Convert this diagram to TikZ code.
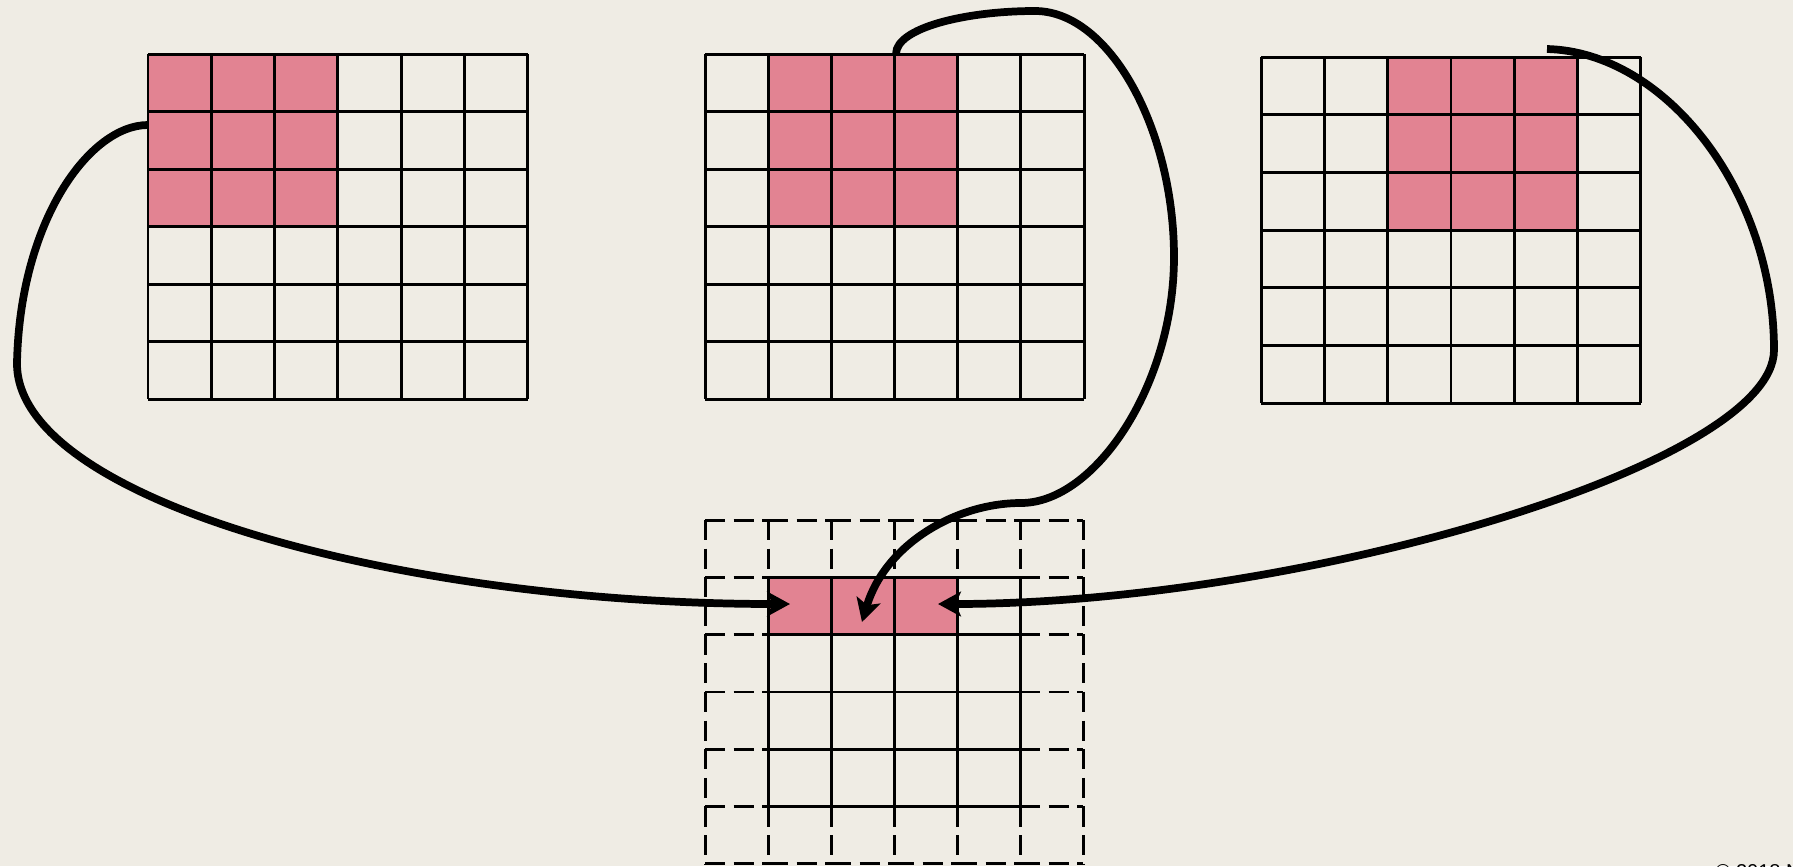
\documentclass[tikz,border=0pt]{standalone}
\usepackage{fontspec}
\setmainfont{Liberation Sans}
\usetikzlibrary{arrows.meta}
\definecolor{bg}{RGB}{239,236,228}
\definecolor{pinkc}{RGB}{226,131,146}
\begin{document}
\begin{tikzpicture}[x=0.01cm,y=-0.01cm,
  gridline/.style={line width=0.85pt, black},
  dashline/.style={line width=0.85pt, black, dash pattern=on 0.2cm off 0.085cm},
  curve/.style={line width=2.2pt, black},
  tipend/.style={-{Stealth[length=6.5pt,width=7pt,inset=1.5pt]}},
  cellfill/.style={fill=pinkc}]
\useasboundingbox (0,0) rectangle (1793,866);
\fill[bg] (0,0) rectangle (1793,866);

% grid 1
\fill[cellfill] (148,54) rectangle (338,226.5);
\foreach \i in {0,...,6} {
  \draw[gridline] ({148+\i*63.33},54) -- ({148+\i*63.33},399);
  \draw[gridline] (148,{54+\i*57.5}) -- (528,{54+\i*57.5});
}
% grid 2
\fill[cellfill] (768.2,54) rectangle (957.7,226.5);
\foreach \i in {0,...,6} {
  \draw[gridline] ({705+\i*63.17},54) -- ({705+\i*63.17},399);
  \draw[gridline] (705,{54+\i*57.5}) -- (1084,{54+\i*57.5});
}
% grid 3
\fill[cellfill] (1387.7,57) rectangle (1577.7,230);
\foreach \i in {0,...,6} {
  \draw[gridline] ({1261+\i*63.33},57) -- ({1261+\i*63.33},403);
  \draw[gridline] (1261,{57+\i*57.67}) -- (1641,{57+\i*57.67});
}
% output grid
\fill[cellfill] (768,577.33) rectangle (957,634.67);
\foreach \i in {0,...,6} {
  \foreach \j in {0,...,5} {
    \draw[dashline] ({705+\i*63},{520+\j*57.33}) -- ({705+\i*63},{520+(\j+1)*57.33});
    \draw[dashline] ({705+\j*63},{520+\i*57.33}) -- ({705+(\j+1)*63},{520+\i*57.33});
  }
}
\foreach \i in {1,...,5} {
  \draw[gridline] ({705+\i*63},577.33) -- ({705+\i*63},806.67);
  \draw[gridline] (768,{520+\i*57.33}) -- (1020,{520+\i*57.33});
}

% connectors
\coordinate (Lstart) at (148,125);
\coordinate (Lend) at (790,604);
\coordinate (Mstart) at (896,54);
\coordinate (Mend) at (862,622);
\coordinate (Rstart) at (1547,49);
\coordinate (Rend) at (938,604);

\draw[curve,tipend] (Lstart) .. controls (90,125) and (20,220) .. (17,363)
  .. controls (16,500) and (400,604) .. (Lend);
\draw[curve,tipend] (Mstart) .. controls (896,28) and (965,11) .. (1035,11)
  .. controls (1110,11) and (1174,130) .. (1174,257)
  .. controls (1174,385) and (1095,503) .. (1021,503)
  .. controls (955,503) and (885,545) .. (Mend);
\draw[curve,tipend] (Rstart) .. controls (1665,52) and (1774,190) .. (1774,350)
  .. controls (1774,465) and (1300,604) .. (Rend);

\node[anchor=base west, inner sep=0pt, font=\fontsize{5.7pt}{7pt}\selectfont] (copy) at (1715,878) {© 2018 Natalie R};
\end{tikzpicture}
\end{document}
